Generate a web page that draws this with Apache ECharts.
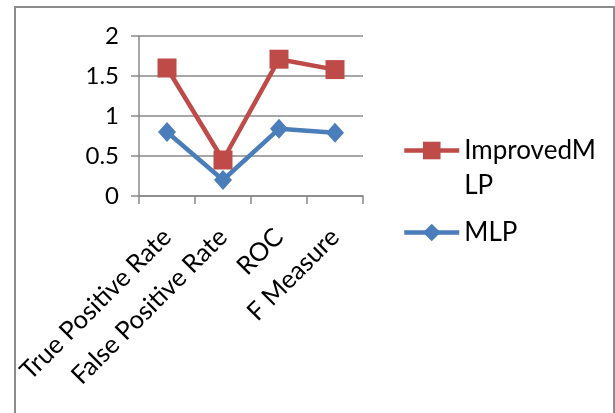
<!doctype html>
<html>
<head>
<meta charset="UTF-8">
<title>MLP vs ImprovedMLP</title>
<style>
  html, body { margin: 0; padding: 0; background: #fff; }
  #frame { position: absolute; left: 14px; top: 6px; width: 597px; height: 420px;
           border: 2px solid #8c8c8c; border-bottom: none; }
  #main { position: absolute; left: 0; top: 0; width: 615px; height: 413px; }
</style>
<script src="https://cdn.jsdelivr.net/npm/echarts@6/dist/echarts.min.js"></script>
</head>
<body>
<div id="frame"></div>
<div id="main"></div>
<script type="text/javascript">
var categories = ['True Positive Rate', 'False Positive Rate', 'ROC', 'F Measure'];
var improvedMlp = [1.6, 0.45, 1.71, 1.58];
var mlp = [0.8, 0.2, 0.84, 0.79];
var yTicks = [0, 0.5, 1, 1.5, 2];

var font = 'Lato, "Open Sans", sans-serif';
var gray = '#888888';

var myChart = echarts.init(document.getElementById('main'));

var legendText = { fontFamily: font, fontSize: 26, color: '#000', lineHeight: 35 };

var option = {
    animation: false,
    grid: { left: 139, right: 252, top: 36, bottom: 217 },
    legend: [
        {
            data: ['ImprovedMLP'],
            left: 397, top: 93,
            itemWidth: 55, itemHeight: 22,
            lineStyle: { width: 4.5 },
            // empty first line keeps "ImprovedM" level with the icon, "LP" wraps below
            formatter: function (name) { return '\u00a0\nImprovedM\nLP'; },
            textStyle: legendText
        },
        {
            data: ['MLP'],
            left: 397, top: 210,
            itemWidth: 55, itemHeight: 22,
            lineStyle: { width: 4.5 },
            textStyle: legendText
        }
    ],
    xAxis: {
        type: 'category',
        data: categories,
        boundaryGap: true,
        axisLine: { lineStyle: { color: gray, width: 1.5 } },
        axisTick: { show: true, length: 8, lineStyle: { color: gray, width: 1.5 } },
        axisLabel: { rotate: 45, interval: 0, margin: 37, color: '#000',
                     fontFamily: font, fontSize: 25.5 }
    },
    yAxis: {
        type: 'value',
        min: 0, max: 2, interval: 0.5,
        axisLine: { show: true, lineStyle: { color: gray, width: 1.5 } },
        axisTick: { show: true, length: 8, lineStyle: { color: gray, width: 1.5 } },
        splitLine: { lineStyle: { color: gray, width: 1.5 } },
        axisLabel: { margin: 20, color: '#000', fontFamily: font, fontSize: 24,
                     formatter: function (v) { return yTicks.indexOf(v) >= 0 ? String(v) : ''; } }
    },
    series: [
        {
            name: 'MLP',
            type: 'line',
            data: mlp,
            symbol: 'diamond',
            symbolSize: [18, 20],
            lineStyle: { color: '#4a7ebb', width: 4.5 },
            itemStyle: { color: '#4a7ebb' }
        },
        {
            name: 'ImprovedMLP',
            type: 'line',
            data: improvedMlp,
            symbol: 'rect',
            symbolSize: 19,
            lineStyle: { color: '#be4b48', width: 4.5 },
            itemStyle: { color: '#be4b48' }
        }
    ]
};

myChart.setOption(option);
</script>
</body>
</html>
